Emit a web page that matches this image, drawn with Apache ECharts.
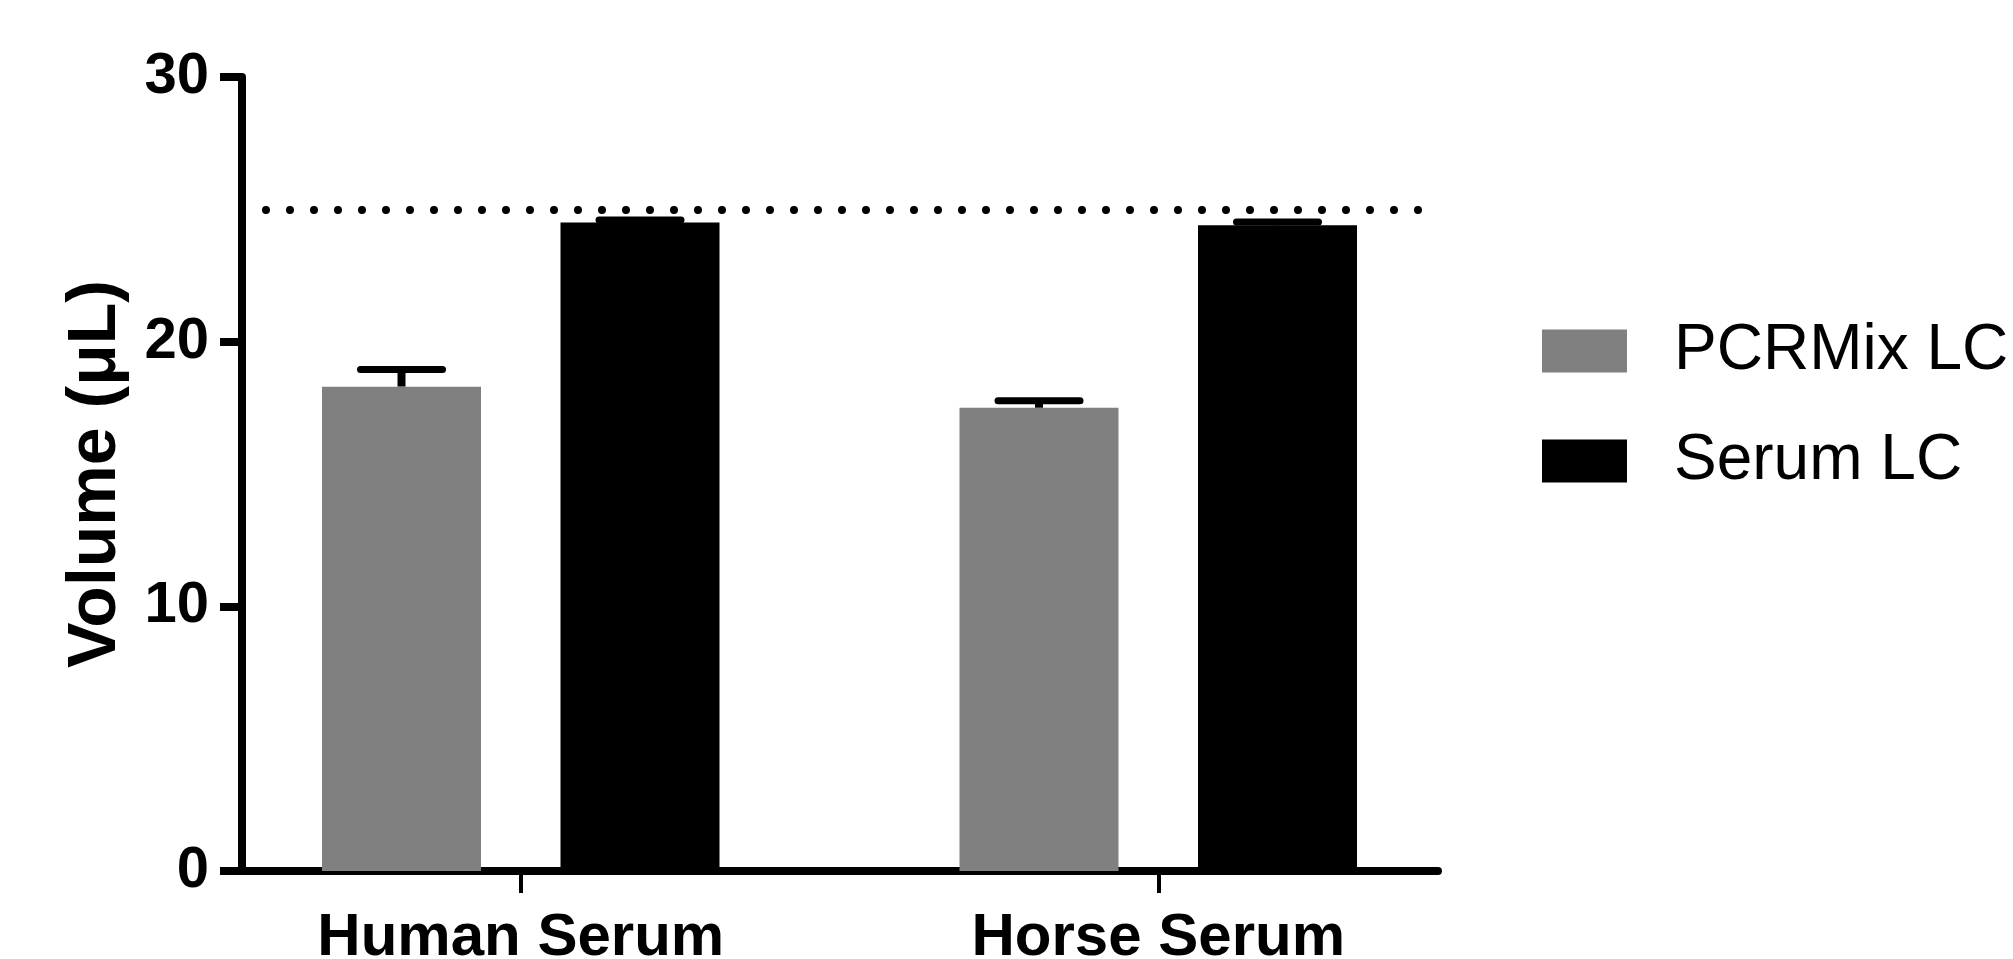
<!DOCTYPE html>
<html>
<head>
<meta charset="utf-8">
<script src="https://cdn.jsdelivr.net/npm/echarts@6/dist/echarts.min.js"></script>
<style>
html, body { margin: 0; background: #fff; }
#chart { width: 2013px; height: 959px; }
</style>
</head>
<body>
<div id="chart"></div>
<script>
// data
var categories = ['Human Serum', 'Horse Serum'];
var seriesNames = ['PCRMix LC', 'Serum LC'];
var pcrMix = [18.3, 17.5];
var pcrMixErr = [0.65, 0.27];
var serumLC = [24.5, 24.4];
var serumLCErr = [0.1, 0.12];
var refLine = 25;

var FONT = '"Liberation Sans", Arial, sans-serif';

function errData(means, errs) {
    return means.map(function (m, i) { return [i, m, errs[i]]; });
}

// upper-only error bars, drawn at the bar's offset inside the band
function errorBar(offset) {
    return function (params, api) {
        var base = api.coord([api.value(0), api.value(1)]);
        var top = api.coord([api.value(0), api.value(1) + api.value(2)]);
        var x = base[0] + offset;
        return {
            type: 'group',
            children: [
                { type: 'line', shape: { x1: x, y1: base[1], x2: x, y2: top[1] },
                  style: { stroke: '#000', lineWidth: 8 } },
                { type: 'line', shape: { x1: x - 41, y1: top[1], x2: x + 41, y2: top[1] },
                  style: { stroke: '#000', lineWidth: 7, lineCap: 'round' } }
            ]
        };
    };
}

var myChart = echarts.init(document.getElementById('chart'));

var option = {
    animation: false,
    textStyle: { fontFamily: FONT },
    color: ['#808080', '#000000'],
    legend: {
        data: seriesNames,
        orient: 'vertical',
        left: 1537,
        top: 314,
        icon: 'rect',
        itemWidth: 85,
        itemHeight: 43,
        itemGap: 46,
        textStyle: {
            fontFamily: FONT,
            fontSize: 64,
            lineHeight: 64,
            color: '#000',
            padding: [0, 0, 0, 42]
        }
    },
    grid: [
        // bars
        { left: 202, right: 536, top: 77, bottom: 88, outerBoundsMode: 'none' },
        // visible axes
        { left: 242, right: 575, top: 77, bottom: 88, outerBoundsMode: 'none' }
    ],
    xAxis: [
        {
            type: 'category',
            gridIndex: 0,
            data: categories,
            axisLine: { show: false },
            axisTick: { show: true, alignWithLabel: true, length: 22, lineStyle: { color: '#000', width: 4 } },
            axisLabel: { color: '#000', fontSize: 60, fontWeight: 'bold', fontFamily: FONT, margin: 37 },
            splitLine: { show: false }
        },
        {
            type: 'value',
            gridIndex: 1,
            min: 0,
            max: 1,
            axisLine: { show: true, lineStyle: { color: '#000', width: 8 } },
            axisTick: { show: false },
            axisLabel: { show: false },
            splitLine: { show: false }
        }
    ],
    yAxis: [
        {
            type: 'value',
            gridIndex: 0,
            min: 0,
            max: 30,
            show: false
        },
        {
            type: 'value',
            gridIndex: 1,
            min: 0,
            max: 30,
            interval: 10,
            name: 'Volume (μL)',
            nameLocation: 'middle',
            nameGap: 112,
            nameTextStyle: { color: '#000', fontSize: 68, fontWeight: 'bold', fontFamily: FONT },
            axisLine: { show: true, lineStyle: { color: '#000', width: 8 } },
            axisTick: { show: true, length: 22, lineStyle: { color: '#000', width: 8 } },
            axisLabel: { color: '#000', fontSize: 58, fontWeight: 'bold', fontFamily: FONT, margin: 33 },
            splitLine: { show: false }
        }
    ],
    series: [
        {
            name: seriesNames[0],
            type: 'bar',
            xAxisIndex: 0,
            yAxisIndex: 0,
            barWidth: 159,
            barGap: '50%',
            data: pcrMix
        },
        {
            name: seriesNames[1],
            type: 'bar',
            xAxisIndex: 0,
            yAxisIndex: 0,
            barWidth: 159,
            barGap: '50%',
            data: serumLC
        },
        {
            type: 'custom',
            xAxisIndex: 0,
            yAxisIndex: 0,
            renderItem: errorBar(-119.25),
            encode: { x: 0, y: 1 },
            data: errData(pcrMix, pcrMixErr),
            z: 1
        },
        {
            type: 'custom',
            xAxisIndex: 0,
            yAxisIndex: 0,
            renderItem: errorBar(119.25),
            encode: { x: 0, y: 1 },
            data: errData(serumLC, serumLCErr),
            z: 3
        },
        {
            type: 'line',
            xAxisIndex: 1,
            yAxisIndex: 1,
            data: [],
            markLine: {
                silent: true,
                symbol: 'none',
                label: { show: false },
                lineStyle: { color: '#000', width: 8, type: [0, 24], cap: 'round' },
                data: [{ yAxis: refLine }]
            }
        }
    ]
};

myChart.setOption(option);
window.addEventListener('resize', function () {
    myChart.resize();
});
</script>
</body>
</html>
